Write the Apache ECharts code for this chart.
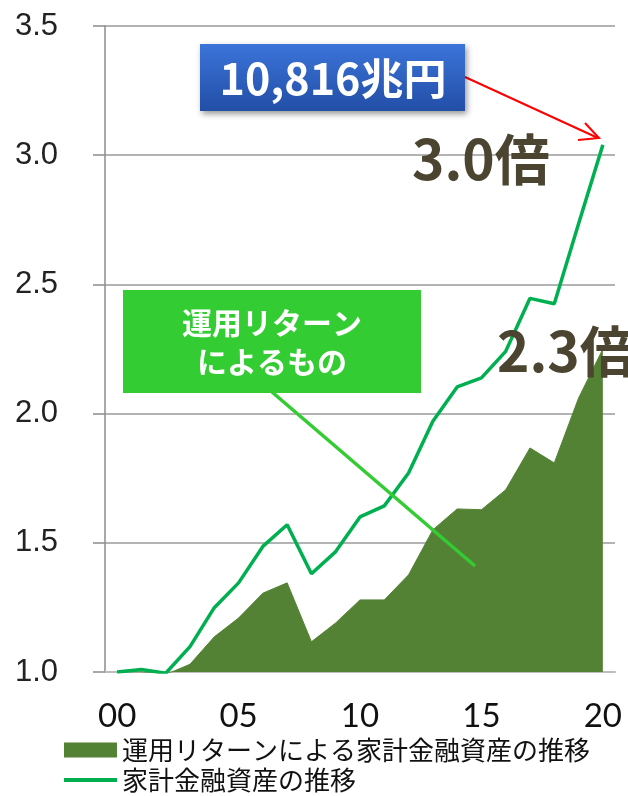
<!DOCTYPE html>
<html>
<head>
<meta charset="utf-8">
<script src="https://cdn.jsdelivr.net/npm/echarts@6/dist/echarts.min.js"></script>
<style>
  html, body { margin: 0; padding: 0; background: #fff; }
  #chart { width: 628px; height: 796px; }
</style>
</head>
<body>
<div id="chart"></div>
<script>
// 年（2000〜2020）の下2桁
const years = ["00", "01", "02", "03", "04", "05", "06", "07", "08", "09", "10",
  "11", "12", "13", "14", "15", "16", "17", "18", "19", "20"];

// 家計金融資産の推移（2000年=1.0）
const totalAssets = [1.00, 1.01, 0.995, 1.098, 1.249, 1.345, 1.486, 1.570, 1.380, 1.466, 1.600,
  1.643, 1.770, 1.970, 2.103, 2.138, 2.241, 2.446, 2.425, 2.735, 3.04];

// 運用リターンによる家計金融資産の推移
const returnAssets = [1.00, 1.00, 0.99, 1.03, 1.136, 1.209, 1.305, 1.345, 1.117, 1.19, 1.279,
  1.279, 1.376, 1.55, 1.631, 1.628, 1.705, 1.867, 1.809, 2.06, 2.25];

const seriesNames = ["運用リターンによる家計金融資産の推移", "家計金融資産の推移"];

const jp = '"Noto Sans CJK JP", "Noto Sans", sans-serif';
const legendText = { fontFamily: jp, fontSize: 26, color: "#111" };

const chart = echarts.init(document.getElementById("chart"));

chart.setOption({
  animation: false,
  backgroundColor: "#ffffff",
  grid: { left: 105, right: 13, top: 26, bottom: 124 },
  // 凡例は1項目ずつ縦に並べる
  legend: [
    {
      left: 64,
      top: 737,
      padding: 0,
      itemWidth: 53,
      itemHeight: 15,
      icon: "rect",
      data: [seriesNames[0]],
      textStyle: legendText
    },
    {
      left: 64,
      top: 767,
      padding: 0,
      itemWidth: 53,
      itemHeight: 4,
      icon: "rect",
      data: [seriesNames[1]],
      textStyle: legendText
    }
  ],
  xAxis: {
    type: "category",
    data: years,
    boundaryGap: true,
    axisLine: { lineStyle: { color: "#bdbdbd", width: 2 } },
    axisTick: { interval: 4, length: 11, lineStyle: { color: "#bdbdbd", width: 2 } },
    axisLabel: { interval: 4, fontFamily: "Lato", fontSize: 33, color: "#111", margin: 28 }
  },
  yAxis: {
    type: "value",
    min: 1,
    max: 3.5,
    interval: 0.5,
    axisLine: { show: true, lineStyle: { color: "#8c8c8c", width: 1.5 } },
    axisTick: { show: true, length: 12, lineStyle: { color: "#8c8c8c", width: 1.5 } },
    axisLabel: {
      fontFamily: '"Liberation Sans", Arial, sans-serif',
      fontSize: 31,
      color: "#222",
      margin: 47,
      formatter: (v) => v.toFixed(1)
    },
    splitLine: { lineStyle: { color: "#9a9a9a", width: 1.5 } }
  },
  series: [
    {
      name: seriesNames[0],
      type: "line",
      data: returnAssets,
      symbol: "none",
      itemStyle: { color: "#548235" },
      lineStyle: { width: 1, color: "#548235" },
      areaStyle: { color: "#548235", opacity: 1, origin: "start" },
      z: 2
    },
    {
      name: seriesNames[1],
      type: "line",
      data: totalAssets,
      symbol: "none",
      itemStyle: { color: "#00b050" },
      lineStyle: { width: 3.5, color: "#00b050" },
      z: 3
    }
  ],
  graphic: [
    // 運用リターン の吹き出し
    {
      type: "line",
      z: 10,
      shape: { x1: 272, y1: 392, x2: 475, y2: 566 },
      style: { stroke: "#33cc33", lineWidth: 3.5 }
    },
    {
      type: "rect",
      z: 11,
      shape: { x: 123, y: 290, width: 298, height: 103 },
      style: { fill: "#33cc33" }
    },
    {
      type: "text",
      z: 12,
      style: {
        x: 272, y: 342,
        text: "運用リターン\nによるもの",
        align: "center",
        verticalAlign: "middle",
        fill: "#fff",
        font: 'bold 30px ' + jp,
        lineHeight: 39
      }
    },
    // 10,816兆円 の箱と矢印
    {
      type: "rect",
      z: 11,
      shape: { x: 200, y: 44, width: 265, height: 67 },
      style: {
        fill: new echarts.graphic.LinearGradient(0, 0, 0, 1, [
          { offset: 0, color: "#3c74da" },
          { offset: 1, color: "#224ea6" }
        ]),
        shadowBlur: 6,
        shadowOffsetX: 2,
        shadowOffsetY: 3,
        shadowColor: "rgba(0,0,0,0.4)"
      }
    },
    {
      type: "text",
      z: 12,
      style: {
        x: 333, y: 79,
        text: "10,816兆円",
        align: "center",
        verticalAlign: "middle",
        fill: "#fff",
        font: 'bold 43px ' + jp
      }
    },
    {
      type: "polyline",
      z: 10,
      shape: { points: [[465, 77], [598, 138]] },
      style: { stroke: "#ff0000", lineWidth: 2, fill: null }
    },
    {
      type: "polyline",
      z: 10,
      shape: { points: [[585, 123], [599, 138], [578, 140]] },
      style: { stroke: "#ff0000", lineWidth: 2, fill: null }
    },
    // 倍率
    {
      type: "text",
      z: 12,
      style: {
        x: 412, y: 159,
        text: "3.0倍",
        align: "left",
        verticalAlign: "middle",
        fill: "#4b4430",
        font: 'bold 55px ' + jp
      }
    },
    {
      type: "text",
      z: 12,
      style: {
        x: 497, y: 351,
        text: "2.3倍",
        align: "left",
        verticalAlign: "middle",
        fill: "#4b4430",
        font: 'bold 55px ' + jp
      }
    }
  ]
});
</script>
</body>
</html>
